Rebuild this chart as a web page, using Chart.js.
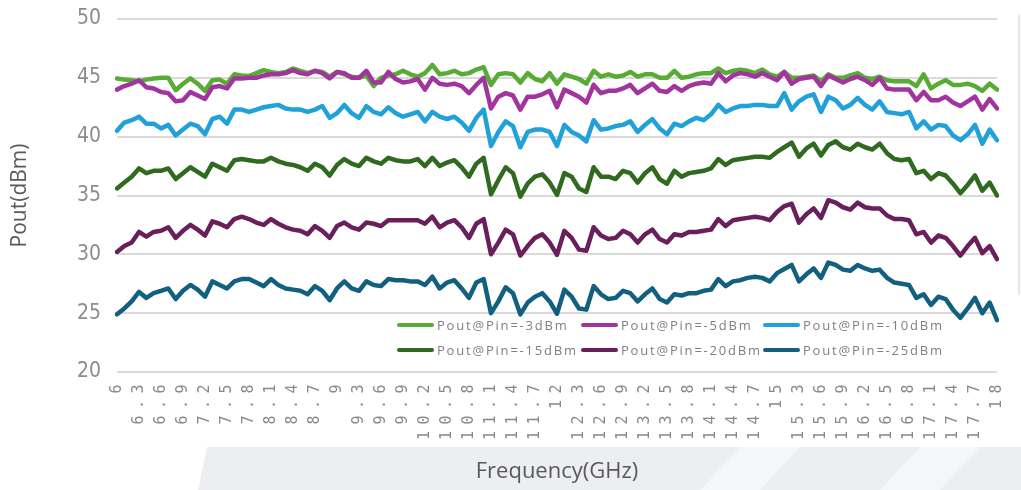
<!DOCTYPE html>
<html>
<head>
<meta charset="utf-8">
<script src="https://cdn.jsdelivr.net/npm/chart.js@4/dist/chart.umd.min.js"></script>
<style>
  html, body { margin: 0; padding: 0; background: #ffffff; }
  #wrap { position: relative; width: 1021px; height: 490px; overflow: hidden; }
  #c { position: absolute; left: 0; top: 0; }
  #legend { position: absolute; left: 0; top: 0; width: 1021px; height: 490px; pointer-events: none; }
  .li { position: absolute; display: flex; align-items: center; height: 18px; white-space: nowrap;
        font-family: "Open Sans", "Noto Sans", sans-serif; font-size: 13px; letter-spacing: 1.8px; color: #7f7f7f; }
  .li .sw { width: 37px; height: 4px; border-radius: 2px; margin-right: 3px; }
</style>
</head>
<body>
<div id="wrap">
  <canvas id="c" width="1021" height="490"></canvas>
  <div id="legend"></div>
</div>
<script>
// ---------------- data ----------------
const categories = [
  6, 6.1, 6.2, 6.3, 6.4, 6.5, 6.6, 6.7, 6.8, 6.9,
  7, 7.1, 7.2, 7.3, 7.4, 7.5, 7.6, 7.7, 7.8, 7.9,
  8, 8.1, 8.2, 8.3, 8.4, 8.5, 8.6, 8.7, 8.8, 8.9,
  9, 9.1, 9.2, 9.3, 9.4, 9.5, 9.6, 9.7, 9.8, 9.9,
  10, 10.1, 10.2, 10.3, 10.4, 10.5, 10.6, 10.7, 10.8, 10.9,
  11, 11.1, 11.2, 11.3, 11.4, 11.5, 11.6, 11.7, 11.8, 11.9,
  12, 12.1, 12.2, 12.3, 12.4, 12.5, 12.6, 12.7, 12.8, 12.9,
  13, 13.1, 13.2, 13.3, 13.4, 13.5, 13.6, 13.7, 13.8, 13.9,
  14, 14.1, 14.2, 14.3, 14.4, 14.5, 14.6, 14.7, 14.8, 14.9,
  15, 15.1, 15.2, 15.3, 15.4, 15.5, 15.6, 15.7, 15.8, 15.9,
  16, 16.1, 16.2, 16.3, 16.4, 16.5, 16.6, 16.7, 16.8, 16.9,
  17, 17.1, 17.2, 17.3, 17.4, 17.5, 17.6, 17.7, 17.8, 17.9,
  18
];

const tickLabels = ['6','6.3','6.6','6.9','7.2','7.5','7.8','8.1','8.4','8.7','9','9.3','9.6','9.9',
  '10.2','10.5','10.8','11.1','11.4','11.7','12','12.3','12.6','12.9','13.2','13.5','13.8','14.1',
  '14.4','14.7','15','15.3','15.6','15.9','16.2','16.5','16.8','17.1','17.4','17.7','18'];

const yTicks = [20, 25, 30, 35, 40, 45, 50];

const seriesNames = ['Pout@Pin=-3dBm','Pout@Pin=-5dBm','Pout@Pin=-10dBm',
                     'Pout@Pin=-15dBm','Pout@Pin=-20dBm','Pout@Pin=-25dBm'];

const pin3 = [
  44.95,44.85,44.8,44.7,44.85,44.95,45.0,45.0,43.95,44.5,
  44.95,44.5,43.9,44.8,44.85,44.5,45.3,45.2,45.15,45.4,
  45.65,45.5,45.4,45.5,45.8,45.6,45.4,45.6,45.5,45.1,
  45.5,45.3,45.1,45.0,45.2,44.3,45.0,45.2,45.3,45.6,
  45.3,45.1,45.4,46.1,45.3,45.4,45.6,45.3,45.4,45.7,
  45.9,44.4,45.3,45.4,45.3,44.6,45.4,44.9,44.7,45.4,
  44.5,
  45.3,45.1,44.9,44.5,45.6,45.1,45.3,45.1,45.2,45.5,
  45.1,45.3,45.3,45.0,45.0,45.6,45.0,45.1,45.3,45.4,
  45.4,45.8,45.4,45.6,45.7,45.6,45.4,45.7,45.3,45.1,
  45.5,45.0,45.0,45.1,45.2,44.7,45.3,45.0,45.0,45.2,
  45.4,45.0,44.9,45.1,44.8,44.7,44.7,44.7,44.3,45.3,
  44.1,44.5,44.8,44.4,44.4,44.5,44.3,43.9,44.5,44.0
];
const pin5 = [
  44.0,44.3,44.5,44.8,44.2,44.1,43.8,43.7,43.0,43.1,
  43.8,43.5,43.2,44.2,44.3,44.1,44.95,44.95,45.0,45.0,
  45.2,45.3,45.3,45.4,45.65,45.4,45.3,45.6,45.4,44.95,
  45.5,45.4,45.0,45.0,45.6,44.6,44.6,45.5,44.9,44.6,
  44.7,44.9,44.0,45.0,44.5,44.4,44.5,44.3,43.7,44.4,
  45.0,42.4,43.4,43.7,43.5,42.3,43.4,43.4,43.6,43.9,
  42.5,
  44.0,43.7,43.4,42.9,44.4,43.7,43.9,43.9,44.1,44.4,
  43.7,44.1,44.5,43.9,43.8,44.3,43.9,44.3,44.5,44.6,
  44.5,45.4,44.7,45.2,45.4,45.3,45.1,45.4,45.1,44.8,
  45.5,44.5,44.9,45.0,45.1,44.3,45.2,44.9,44.6,44.9,
  45.1,44.8,44.4,45.0,44.1,44.0,44.0,44.0,43.1,43.8,
  43.1,43.1,43.4,42.9,42.6,43.0,43.4,42.3,43.2,42.4
];
const pin10 = [
  40.5,41.2,41.4,41.7,41.1,41.1,40.7,41.0,40.1,40.6,
  41.1,40.9,40.2,41.5,41.7,41.1,42.3,42.3,42.1,42.3,
  42.5,42.6,42.7,42.4,42.3,42.3,42.1,42.3,42.6,41.6,
  42.0,42.7,42.0,41.6,42.6,42.1,41.9,42.5,42.0,41.7,
  41.9,42.1,41.3,42.1,41.7,41.5,41.7,41.2,40.5,41.6,
  42.3,39.2,40.4,41.3,40.9,39.1,40.4,40.6,40.6,40.4,
  39.2,
  41.0,40.4,40.1,39.6,41.4,40.6,40.7,40.9,41.0,41.3,
  40.4,41.0,41.5,40.7,40.2,41.1,40.9,41.3,41.6,41.4,
  41.9,42.7,42.1,42.4,42.6,42.6,42.7,42.7,42.6,42.6,
  43.7,42.3,43.0,43.4,43.6,42.1,43.4,43.1,42.4,42.7,
  43.3,42.7,42.3,43.0,42.1,42.0,41.9,42.1,40.7,41.3,
  40.6,41.0,40.9,40.1,39.7,40.2,41.0,39.4,40.6,39.7
];
const pin15 = [
  35.6,36.1,36.6,37.3,36.9,37.1,37.1,37.3,36.4,36.9,
  37.4,37.0,36.6,37.7,37.4,37.1,38.0,38.1,38.0,37.9,
  37.9,38.2,37.9,37.7,37.6,37.4,37.1,37.7,37.4,36.7,
  37.6,38.1,37.7,37.5,38.2,37.9,37.7,38.2,38.0,37.9,
  37.9,38.1,37.5,38.2,37.5,37.8,38.0,37.4,36.6,37.7,
  38.2,35.1,36.3,37.4,36.9,34.9,36.0,36.6,36.8,36.1,
  35.05,
  36.9,36.6,35.6,35.3,37.4,36.6,36.6,36.4,37.1,36.9,
  36.1,36.9,37.4,36.4,36.0,37.1,36.6,36.9,37.0,37.1,
  37.3,38.1,37.6,38.0,38.1,38.2,38.3,38.3,38.2,38.7,
  39.1,39.5,38.3,39.0,39.4,38.4,39.3,39.6,39.1,38.9,
  39.4,39.1,38.9,39.4,38.6,38.1,38.0,38.1,36.9,37.1,
  36.4,36.9,36.7,36.0,35.2,35.9,36.7,35.4,36.1,35.0
];
const pin20 = [
  30.2,30.7,31.0,31.9,31.5,31.9,32.0,32.3,31.4,32.0,
  32.5,32.1,31.6,32.8,32.6,32.3,33.0,33.2,33.0,32.7,
  32.5,33.0,32.6,32.3,32.1,32.0,31.7,32.4,32.0,31.4,
  32.4,32.7,32.3,32.1,32.7,32.6,32.4,32.9,32.9,32.9,
  32.9,32.9,32.6,33.2,32.3,32.7,32.9,32.3,31.4,32.6,
  33.0,30.0,31.0,32.1,31.7,29.9,30.7,31.4,31.7,31.0,
  29.95,
  32.0,31.4,30.4,30.3,32.3,31.6,31.3,31.4,32.0,31.7,
  31.0,31.7,32.1,31.3,31.0,31.7,31.6,31.9,31.9,32.0,
  32.1,33.0,32.4,32.9,33.0,33.1,33.2,33.1,32.9,33.6,
  34.1,34.3,32.7,33.4,33.9,33.1,34.6,34.4,34.0,33.8,
  34.4,34.0,33.9,33.9,33.3,33.0,33.0,32.9,31.7,31.9,
  31.0,31.6,31.4,30.7,29.9,30.7,31.4,30.1,30.7,29.6
];
const pin25 = [
  24.9,25.4,26.0,26.8,26.3,26.7,26.9,27.1,26.2,26.9,
  27.4,27.0,26.4,27.7,27.4,27.1,27.7,27.9,27.9,27.6,
  27.3,27.9,27.4,27.1,27.0,26.9,26.6,27.3,26.9,26.1,
  27.1,27.7,27.1,26.9,27.7,27.4,27.3,27.9,27.8,27.8,
  27.7,27.7,27.4,28.1,27.1,27.6,27.8,27.1,26.3,27.6,
  27.9,25.0,26.0,27.2,26.7,24.9,25.9,26.4,26.7,26.0,
  24.95,
  27.0,26.4,25.4,25.3,27.3,26.6,26.2,26.3,26.9,26.7,
  26.0,26.6,27.1,26.2,25.9,26.6,26.5,26.7,26.7,26.9,
  27.0,27.9,27.3,27.7,27.8,28.0,28.1,28.0,27.7,28.4,
  28.75,29.1,27.7,28.3,28.8,28.0,29.3,29.1,28.7,28.6,
  29.1,28.8,28.6,28.7,28.0,27.6,27.5,27.4,26.3,26.6,
  25.7,26.4,26.2,25.3,24.6,25.4,26.3,25.0,25.9,24.4
];

// ---------------- styles ----------------
const colors = ['#58ac34', '#a2349e', '#20a1d9', '#2f6a1f', '#6a1f5c', '#12607f'];
const drawOrder = [2, 1, 3, 4, 5, 6];
const seriesValues = [pin3, pin5, pin10, pin15, pin20, pin25];

const datasets = seriesValues.map((vals, k) => ({
  label: seriesNames[k],
  data: vals,
  borderColor: colors[k],
  backgroundColor: colors[k],
  borderWidth: 4.5,
  pointRadius: 0,
  pointHoverRadius: 0,
  tension: 0,
  fill: false,
  borderJoinStyle: 'round',
  borderCapStyle: 'round',
  order: drawOrder[k]
}));

// decorative background (band at bottom)
const backdrop = {
  id: 'backdrop',
  beforeDraw(chart) {
    const ctx = chart.ctx;
    ctx.save();
    ctx.fillStyle = '#ffffff';
    ctx.fillRect(0, 0, chart.width, chart.height);
    ctx.fillStyle = '#eceef1';
    ctx.beginPath();
    ctx.moveTo(207, 447); ctx.lineTo(1021, 447); ctx.lineTo(1021, 490); ctx.lineTo(198, 490);
    ctx.closePath(); ctx.fill();
    ctx.fillStyle = '#f5f6f8';
    [[700, 760], [880, 940]].forEach(([a, b]) => {
      ctx.beginPath();
      ctx.moveTo(a + 40, 447); ctx.lineTo(b + 40, 447); ctx.lineTo(b, 490); ctx.lineTo(a, 490);
      ctx.closePath(); ctx.fill();
    });
    ctx.strokeStyle = '#e6e6e6';
    ctx.lineWidth = 2;
    ctx.beginPath(); ctx.moveTo(1019, 15); ctx.lineTo(1019, 295); ctx.stroke();
    ctx.restore();
  }
};

// letter spacing for x tick labels
const spacedX = {
  id: 'spacedX',
  afterUpdate(chart) {
    const s = chart.scales.x;
    if (s && !s.__spaced) {
      const orig = s.drawLabels.bind(s);
      s.drawLabels = function (area) {
        const ctx = this.ctx;
        ctx.save();
        if ('letterSpacing' in ctx) ctx.letterSpacing = '6.5px';
        orig(area);
        ctx.restore();
      };
      s.__spaced = true;
    }
  }
};

const chart = new Chart(document.getElementById('c'), {
  type: 'line',
  data: { labels: categories, datasets },
  plugins: [backdrop, spacedX],
  options: {
    responsive: false,
    animation: false,
    devicePixelRatio: 1,
    layout: { padding: { top: 19, right: 13, bottom: 0, left: 0 } },
    plugins: { legend: { display: false }, tooltip: { enabled: false } },
    scales: {
      x: {
        type: 'category',
        offset: false,
        grid: { display: false, drawTicks: false },
        border: { display: false },
        afterFit(scale) { scale.height = 118; },
        ticks: {
          autoSkip: false,
          maxRotation: 90,
          minRotation: 90,
          padding: 6,
          color: '#8a8a8a',
          font: { family: '"DejaVu Sans Mono", "Liberation Mono", monospace', size: 15 },
          callback: function (v, i) {
            const lab = String(this.getLabelForValue(v));
            return tickLabels.includes(lab) ? lab : '';
          }
        },
        title: {
          display: true,
          text: 'Frequency(GHz)',
          color: '#595959',
          font: { family: '"Open Sans", "Noto Sans", sans-serif', size: 22 },
          padding: { top: 0, bottom: 5 }
        }
      },
      y: {
        min: 20,
        max: 50,
        afterFit(scale) { scale.width = 117; scale.paddingTop = 0; scale.paddingBottom = 0; },
        afterBuildTicks(scale) { scale.ticks = yTicks.map(v => ({ value: v })); },
        grid: { color: '#dadada', lineWidth: 2, drawTicks: false },
        border: { display: false },
        ticks: {
          padding: 16,
          color: '#8c8c8c',
          font: { family: '"Liberation Sans Narrow", "DejaVu Sans Condensed", sans-serif', size: 21 }
        },
        title: {
          display: true,
          text: 'Pout(dBm)',
          color: '#595959',
          font: { family: '"Open Sans", "Noto Sans", sans-serif', size: 21 },
          padding: { top: 7, bottom: 0 }
        }
      }
    }
  }
});

// HTML legend inside the plot area
const legendPos = [[397, 325], [581, 325], [763, 325], [397, 350], [581, 350], [763, 350]];
const legendEl = document.getElementById('legend');
seriesNames.forEach((name, k) => {
  const item = document.createElement('div');
  item.className = 'li';
  item.style.left = legendPos[k][0] + 'px';
  item.style.top = (legendPos[k][1] - 9) + 'px';
  const sw = document.createElement('span');
  sw.className = 'sw';
  sw.style.background = colors[k];
  const tx = document.createElement('span');
  tx.textContent = name;
  item.appendChild(sw);
  item.appendChild(tx);
  legendEl.appendChild(item);
});
</script>
</body>
</html>
